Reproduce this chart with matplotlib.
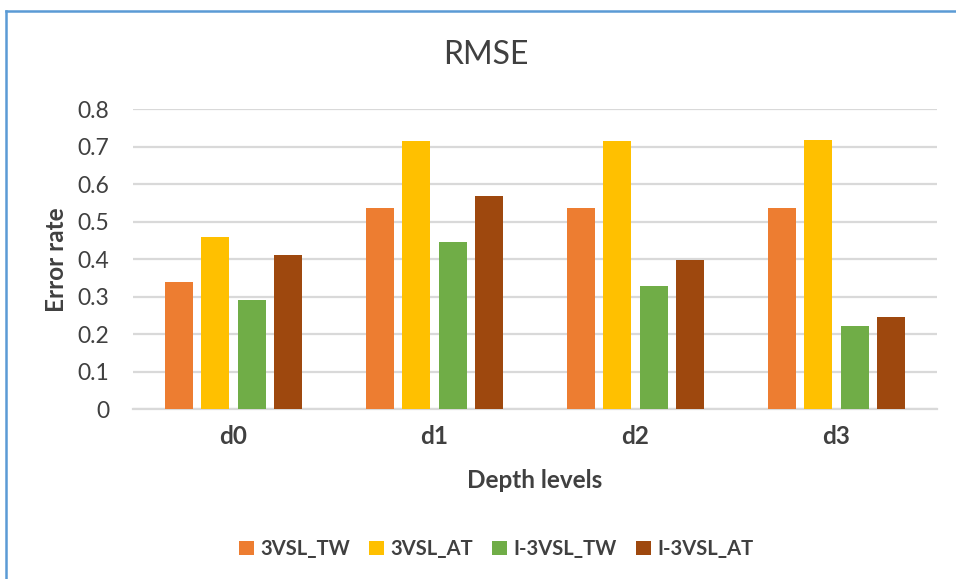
import matplotlib
matplotlib.use("Agg")
import matplotlib.pyplot as plt
import numpy as np
from matplotlib.lines import Line2D
from matplotlib.patches import Patch

# Data
categories = ["d0", "d1", "d2", "d3"]
series_names = ["3VSL_TW", "3VSL_AT", "I-3VSL_TW", "I-3VSL_AT"]
vsl_tw = [0.338, 0.536, 0.537, 0.535]
vsl_at = [0.458, 0.715, 0.716, 0.717]
i_vsl_tw = [0.290, 0.445, 0.329, 0.221]
i_vsl_at = [0.411, 0.568, 0.398, 0.245]
y_ticks = [0, 0.1, 0.2, 0.3, 0.4, 0.5, 0.6, 0.7, 0.8]
y_tick_labels = ["0", "0.1", "0.2", "0.3", "0.4", "0.5", "0.6", "0.7", "0.8"]

series = [vsl_tw, vsl_at, i_vsl_tw, i_vsl_at]
colors = ["#ED7D31", "#FFC000", "#70AD47", "#9E480E"]
text_color = "#404040"
grid_color = "#D9D9D9"

plt.rcParams["font.family"] = ["Lato", "DejaVu Sans"]

fig = plt.figure(figsize=(9.56, 5.79), dpi=100)
ax = fig.add_axes([133 / 956, 1 - 409.3 / 579, 804 / 956, 300.3 / 579])

x = np.arange(len(categories))
pitch = 0.1816
width = 0.14
for i, (vals, col) in enumerate(zip(series, colors)):
    ax.bar(x + (i - 1.5) * pitch, vals, width=width, color=col, zorder=3,
           label=series_names[i])

ax.set_xlim(-0.5, len(categories) - 0.5)
ax.set_ylim(0, 0.8)
ax.set_yticks(y_ticks)
ax.set_yticklabels(y_tick_labels, fontsize=16.5, color=text_color)
ax.set_xticks(x)
ax.set_xticklabels(categories, fontsize=17.5, fontweight="bold", color=text_color)
ax.tick_params(axis="both", length=0)
ax.tick_params(axis="y", pad=17)
ax.tick_params(axis="x", pad=11)
ax.yaxis.grid(True, color=grid_color, linewidth=1.6, zorder=0)
for side in ["left", "right", "top"]:
    ax.spines[side].set_visible(False)
ax.spines["bottom"].set_color(grid_color)
ax.spines["bottom"].set_linewidth(1.6)

# Titles and axis labels
fig.text(485.5 / 956, 1 - 55 / 579, "RMSE", ha="center", va="center",
         fontsize=23, color=text_color)
fig.text(57 / 956, 1 - 260 / 579, "Error rate", ha="center", va="center",
         rotation=90, fontsize=17.5, fontweight="bold", color=text_color)
fig.text(535 / 956, 1 - 481 / 579, "Depth levels", ha="center", va="center",
         fontsize=17.5, fontweight="bold", color=text_color)

# Legend
handles = [Patch(facecolor=c, edgecolor="none") for c in colors]
fig.legend(handles, series_names, loc="center", bbox_to_anchor=(0.519, 1 - 549 / 579),
           ncol=4, frameon=False, handlelength=0.75, handleheight=0.75,
           handletextpad=0.3, columnspacing=0.95,
           prop={"size": 14.5, "weight": "bold"}, labelcolor=text_color)

# Chart border (left and top edges)
border = "#5B9BD5"
fig.add_artist(Line2D([5.5 / 956, 5.5 / 956], [0, 1 - 10.5 / 579],
                      transform=fig.transFigure, color=border, linewidth=1.8))
fig.add_artist(Line2D([5.5 / 956, 1], [1 - 10.5 / 579, 1 - 10.5 / 579],
                      transform=fig.transFigure, color=border, linewidth=1.8))

fig.savefig("out.png", dpi=100, facecolor="white")
